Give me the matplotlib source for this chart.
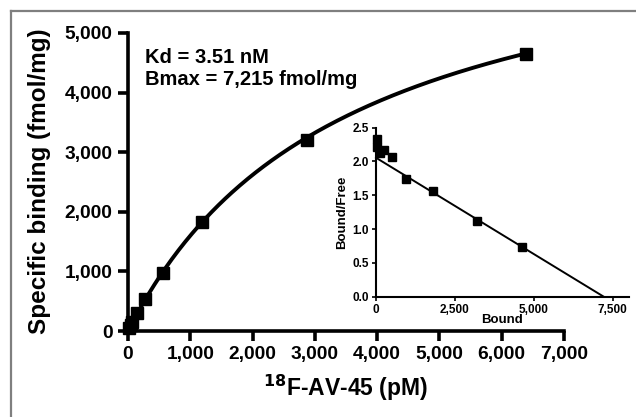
import numpy as np
import matplotlib
matplotlib.use('Agg')
import matplotlib.pyplot as plt
from matplotlib.lines import Line2D

plt.rcParams['font.family'] = ['Liberation Sans', 'DejaVu Sans']
plt.rcParams['font.weight'] = 'bold'

# Saturation data (free ligand in pM, specific binding in fmol/mg)
free_pm = [20, 45, 70, 145, 270, 560, 1190, 2870, 6390]
bound = [50, 100, 150, 300, 530, 975, 1830, 3210, 4650]

# Scatchard data
sc_bound = [30, 42, 130, 253, 497, 940, 1795, 3190, 4615]
sc_ratio = [2.34, 2.22, 2.13, 2.17, 2.07, 1.74, 1.57, 1.12, 0.74]

# Fit parameters shown on the chart
KD = 3510.0     # pM
BMAX = 7215.0   # fmol/mg

main_xticks = [0, 1000, 2000, 3000, 4000, 5000, 6000, 7000]
main_yticks = [0, 1000, 2000, 3000, 4000, 5000]
inset_xticks = [0, 2500, 5000, 7500]
inset_yticks = [0.0, 0.5, 1.0, 1.5, 2.0, 2.5]

fig = plt.figure(figsize=(6.36, 4.17), dpi=100)

# frame around the figure (top and left edges visible)
fig.add_artist(Line2D([11/636, 1.0], [1 - 11/417, 1 - 11/417], color='#7f7f7f', lw=1.6))
fig.add_artist(Line2D([11/636, 11/636], [0.0, 1 - 11/417], color='#7f7f7f', lw=1.6))

ax = fig.add_axes([128/636, 86/417, 436/636, 298/417])

# fitted one-site binding curve
xfit = np.linspace(0, max(free_pm), 300)
ax.plot(xfit, BMAX * xfit / (KD + xfit), color='black', lw=2.8, clip_on=False)
ax.plot(free_pm, bound, 's', color='black', markersize=8.8, clip_on=False)

ax.set_xlim(0, 7000)
ax.set_ylim(0, 5000)
ax.set_xticks(main_xticks)
ax.set_yticks(main_yticks)
ax.set_xticklabels([f'{v:,}' for v in main_xticks])
ax.set_yticklabels([f'{v:,}' for v in main_yticks])
for s in ['top', 'right']:
    ax.spines[s].set_visible(False)
for s in ['left', 'bottom']:
    ax.spines[s].set_linewidth(2.6)
ax.tick_params(width=2.6, length=7, labelsize=13.8, pad=4)
ax.set_ylabel('Specific binding (fmol/mg)', fontsize=17.5, fontweight='bold')
ax.yaxis.set_label_coords(-0.177, 0.502)
ax.set_xlabel('$^{\\mathbf{18}}$F-AV-45 (pM)', fontsize=16.5, fontweight='bold', labelpad=7)

ax.text(0.039, 0.95, 'Kd = 3.51 nM\nBmax = 7,215 fmol/mg', transform=ax.transAxes,
        fontsize=14.5, fontweight='bold', va='top', ha='left', linespacing=1.2)

# Scatchard inset
ins = fig.add_axes([376/636, (417 - 296.7)/417, 252.5/636, 169/417])
xl = np.array([0, BMAX])
ins.plot(xl, (BMAX - xl) / KD, color='black', lw=1.4, clip_on=False)
ins.plot(sc_bound, sc_ratio, 's', color='black', markersize=5.3, clip_on=False)
ins.set_xlim(0, 8000)
ins.set_ylim(0, 2.5)
ins.set_xticks(inset_xticks)
ins.set_yticks(inset_yticks)
ins.set_xticklabels([f'{v:,}' for v in inset_xticks])
ins.set_yticklabels([f'{v:.1f}' for v in inset_yticks])
for s in ['top', 'right']:
    ins.spines[s].set_visible(False)
for s in ['left', 'bottom']:
    ins.spines[s].set_linewidth(1.5)
ins.tick_params(width=1.2, length=3, labelsize=8.5, pad=2)
ins.set_xlabel('Bound', fontsize=9.5, fontweight='bold', labelpad=-1)
ins.set_ylabel('Bound/Free', fontsize=9.5, fontweight='bold', labelpad=3)
ins.patch.set_alpha(0)

fig.savefig('out.png', dpi=100)
